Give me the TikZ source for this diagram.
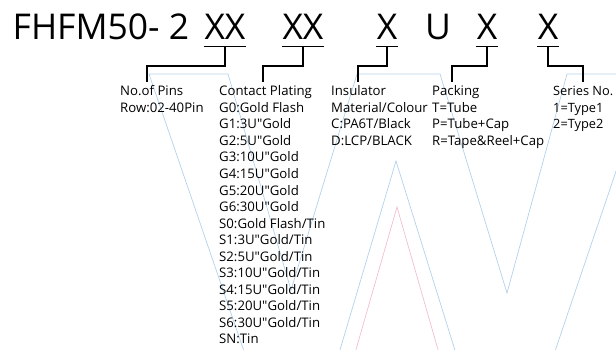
\documentclass[tikz,border=0pt]{standalone}
\usepackage{fontspec}
\setmainfont[Ligatures=TeXOff]{Open Sans}
\usepackage{tikz}
\definecolor{wmblue}{RGB}{178,210,236}
\definecolor{wmpink}{RGB}{243,190,207}

\begin{document}
\begin{tikzpicture}[x=1pt,y=-1pt,
		code/.style={font=\fontsize{35.5}{40}\selectfont, inner xsep=0.5pt, inner ysep=6.5pt, anchor=base},
		txt/.style={font=\fontsize{13.2}{15}\selectfont, inner sep=0pt, anchor=base west},
		bracket/.style={line width=1.5pt},
		wmline/.style={line width=0.7pt}]
			\useasboundingbox (0,0) rectangle (616,350);
			\clip (0,0) rectangle (616,350);
			\def\dy{16.5};

			% watermark
			\draw[wmline, wmblue] (247,360) -- (149,74) -- (228,74) -- (291,290) -- (357,74) -- (440,74) -- (507,293) -- (567,74) -- (649,74) -- (552,360);
			\draw[wmline, wmblue] (337,360) -- (396,161) -- (458,360);
			\draw[wmline, wmpink] (353,360) -- (397,207) -- (441,360);

			% part number
			\node[code, anchor=base west] (prefix) at (12,40) {FHFM50- 2};
			\node[code] (xx1) at (225,40) {XX};
			\node[code] (xx2) at (303,40) {XX};
			\node[code] (x3) at (387,40) {X};
			\node[code] (u) at (438,40) {U};
			\node[code] (x4) at (487,40) {X};
			\node[code] (x5) at (548,40) {X};
			\foreach \n in {xx1,xx2,x3,x4,x5}
			{
				\draw[bracket] (\n.south west) -- (\n.south east);
			}

			% columns
			\foreach \t [count=\i] in {No.of Pins, Row:02-40Pin}
			{
				\node[txt] (pins\i) at (120,96+\dy*\i-\dy) {\t};
			}
			\foreach \t [count=\i] in {Contact Plating, G0:Gold Flash, G1:3U"Gold, G2:5U"Gold, G3:10U"Gold, G4:15U"Gold, G5:20U"Gold, G6:30U"Gold, S0:Gold Flash/Tin, S1:3U"Gold/Tin, S2:5U"Gold/Tin, S3:10U"Gold/Tin, S4:15U"Gold/Tin, S5:20U"Gold/Tin, S6:30U"Gold/Tin, SN:Tin}
			{
				\node[txt] (plating\i) at (219,96+\dy*\i-\dy) {\t};
			}
			\foreach \t [count=\i] in {Insulator, Material/Colour, C:PA6T/Black, D:LCP/BLACK}
			{
				\node[txt] (insul\i) at (331,96+\dy*\i-\dy) {\t};
			}
			\foreach \t [count=\i] in {Packing, T=Tube, P=Tube+Cap, R=Tape\&Reel+Cap}
			{
				\node[txt] (pack\i) at (432,96+\dy*\i-\dy) {\t};
			}
			\foreach \t [count=\i] in {Series No., 1=Type1, 2=Type2}
			{
				\node[txt, font=\fontsize{12.8}{15}\selectfont] (series\i) at (553,96+\dy*\i-\dy) {\t};
			}

			% brackets
			\coordinate (pinsend) at (147,82);
			\coordinate (platingend) at (263,82);
			\coordinate (insulend) at (358,82);
			\coordinate (packend) at (452,82);
			\coordinate (seriesend) at (583,82);
			\draw[bracket] (xx1.south) -- ++(0,19.5) -| (pinsend);
			\draw[bracket] (xx2.south) -- ++(0,19.5) -| (platingend);
			\draw[bracket] (x3.south) -- ++(0,19.5) -| (insulend);
			\draw[bracket] (x4.south) -- ++(0,19.5) -| (packend);
			\draw[bracket] (x5.south) -- ++(0,19.5) -| (seriesend);
		\end{tikzpicture}
\end{document}
